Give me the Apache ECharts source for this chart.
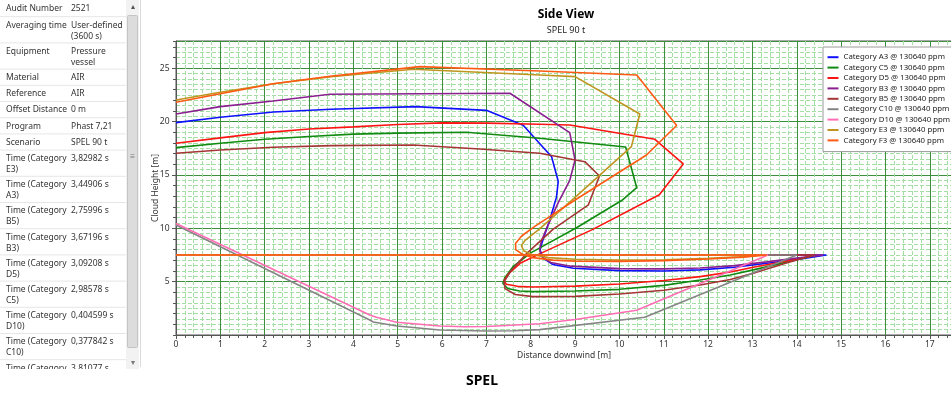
<!DOCTYPE html>
<html>
<head>
<meta charset="utf-8">
<script src="https://cdn.jsdelivr.net/npm/echarts@6/dist/echarts.min.js"></script>
<style>
  html, body { margin: 0; padding: 0; background: #fff; }
  #chart { width: 951px; height: 394px; }
</style>
</head>
<body>
<div id="chart"></div>
<script>
const FONT = '"Noto Sans", "Open Sans", sans-serif';

// Property panel (name / value pairs)
const propNames = [
  'Audit Number', 'Averaging time', 'Equipment', 'Material', 'Reference',
  'Offset Distance', 'Program', 'Scenario',
  'Time (Category\nE3)', 'Time (Category\nA3)', 'Time (Category\nB5)',
  'Time (Category\nB3)', 'Time (Category\nD5)', 'Time (Category\nC5)',
  'Time (Category\nD10)', 'Time (Category\nC10)', 'Time (Category\nF3)'
];
const propValues = [
  '2521', 'User-defined\n(3600 s)', 'Pressure\nvessel', 'AIR', 'AIR',
  '0 m', 'Phast 7,21', 'SPEL 90 t',
  '3,82982 s', '3,44906 s', '2,75996 s', '3,67196 s', '3,09208 s',
  '2,98578 s', '0,404599 s', '0,377842 s', '3,81077 s'
];

// Cloud outlines, side view: [distance downwind (m), cloud height (m)]
const seriesNames = [
  'Category A3 @ 130640 ppm', 'Category C5 @ 130640 ppm', 'Category D5 @ 130640 ppm',
  'Category B3 @ 130640 ppm', 'Category B5 @ 130640 ppm', 'Category C10 @ 130640 ppm',
  'Category D10 @ 130640 ppm', 'Category E3 @ 130640 ppm', 'Category F3 @ 130640 ppm'
];
const seriesColors = ['#1010ff', '#118a11', '#ff1414', '#8a1f8f', '#a53535', '#858585', '#ff6eb4', '#bf9520', '#ff5a14'];

const outlineA3 = [[0,19.9],[1,20.4],[2.2,20.9],[3.5,21.15],[5.4,21.4],[7.0,21.05],[7.83,19.65],[8.47,16.7],[8.62,14.4],[8.58,12.9],[8.43,10.8],[8.25,8.6],[8.21,7.95],[8.28,7.2],[8.5,6.6],[8.96,6.25],[10,6.03],[11,6.0],[11.82,6.1],[12.6,6.35],[13.32,6.72],[14.05,7.1],[14.67,7.5],[0,7.5]];
const outlineC5 = [[0,17.56],[1,17.97],[2,18.34],[3,18.6],[4,18.82],[5,18.92],[6.55,19.0],[8.2,18.43],[10.14,17.62],[10.39,13.8],[10.05,12.6],[9.05,10.1],[8.0,7.7],[7.6,6.4],[7.42,5.4],[7.37,4.85],[7.48,4.35],[7.75,4.12],[8.05,4.06],[9,4.12],[10,4.28],[11,4.65],[11.82,5.15],[12.5,5.62],[13.02,6.1],[13.8,6.85],[14.45,7.5],[0,7.5]];
const outlineD5 = [[0,17.97],[1,18.47],[2,18.96],[3,19.3],[4,19.5],[5,19.72],[6,19.88],[7,19.85],[8.2,19.75],[8.88,19.68],[10.8,18.34],[11.44,16.03],[10.9,13.15],[9.4,9.9],[8.2,7.6],[7.76,6.72],[7.5,5.75],[7.4,5.1],[7.45,4.75],[7.7,4.56],[8.05,4.5],[9,4.58],[10,4.78],[11,5.1],[11.82,5.47],[12.5,5.9],[13.02,6.35],[13.8,6.95],[14.45,7.5],[0,7.5]];
const outlineB3 = [[0,20.71],[1,21.4],[2.19,21.93],[3.47,22.56],[5.5,22.6],[7.53,22.65],[8.88,18.96],[9.0,16.4],[8.88,14.5],[8.62,12.4],[8.38,10.2],[8.24,8.8],[8.2,8.0],[8.26,7.3],[8.45,6.8],[8.9,6.45],[10,6.22],[11,6.2],[11.82,6.28],[12.6,6.5],[13.32,6.85],[14.0,7.2],[14.6,7.5],[0,7.5]];
const outlineB5 = [[0,17.03],[1,17.34],[2.19,17.6],[3.5,17.75],[5.35,17.81],[6.85,17.43],[8.2,17.03],[9.22,16.24],[9.55,14.9],[9.3,12.2],[8.5,9.9],[7.9,7.6],[7.55,6.0],[7.4,5.0],[7.42,4.35],[7.65,3.8],[8.05,3.6],[9,3.62],[10,3.84],[11,4.2],[11.82,4.69],[12.5,5.2],[13.02,5.78],[13.8,6.8],[14.4,7.5],[0,7.5]];
const outlineC10 = [[0,10.31],[4.37,1.41],[4.45,1.22],[4.98,0.84],[5.95,0.47],[7.0,0.37],[7.6,0.4],[8.2,0.5],[10.57,1.66],[14.0,7.5],[0,7.5]];
const outlineD10 = [[0,10.45],[4.37,1.87],[4.52,1.66],[4.98,1.19],[5.95,0.84],[6.5,0.78],[7.0,0.8],[8.2,1.05],[9.0,1.45],[10.39,2.32],[13.35,7.5],[0,7.5]];
const outlineE3 = [[0,22.02],[1,22.75],[2.2,23.55],[3.5,24.2],[5.35,24.9],[8.2,24.37],[9.0,24.21],[10.46,20.71],[10.27,17.65],[9.0,12.9],[8.2,9.95],[7.88,8.9],[7.79,8.4],[7.84,7.9],[8.02,7.55],[8.4,7.25],[9,7.1],[10,7.02],[11,7.05],[12,7.18],[12.7,7.33],[13.25,7.5],[0,7.5]];
const outlineF3 = [[0,21.81],[1,22.6],[2.19,23.55],[3.47,24.25],[5.5,25.15],[8.2,24.74],[10.39,24.37],[11.29,19.63],[10.61,16.87],[9.0,12.65],[8.1,10.2],[7.8,9.3],[7.66,8.6],[7.66,8.0],[7.8,7.6],[8.05,7.25],[8.5,7.02],[9,6.92],[10,6.9],[11,6.97],[12,7.12],[12.8,7.3],[13.32,7.5],[0,7.5]];

const outlines = [outlineA3, outlineC5, outlineD5, outlineB3, outlineB5, outlineC10, outlineD10, outlineE3, outlineF3];

// Axis ranges
const X_MIN = 0, X_MAX = 17.5;
const Y_MIN = 0, Y_MAX = 27.55;

// ---- property panel graphics ----
const ROW_SINGLE = 16.2, ROW_DOUBLE = 26.2;
const panel = [];
let rowTop = 0;
propNames.forEach((name, i) => {
  const lines = Math.max(name.split('\n').length, propValues[i].split('\n').length);
  const h = lines > 1 ? ROW_DOUBLE : ROW_SINGLE;
  if (i > 0) {
    panel.push({ type: 'line', shape: { x1: 0, y1: rowTop + 0.5, x2: 126, y2: rowTop + 0.5 },
      style: { stroke: '#e6e6e6', lineWidth: 1 }, silent: true });
  }
  panel.push({ type: 'text', x: 6, y: rowTop + 3.5,
    style: { text: name, fontSize: 8.5, fontFamily: FONT, fill: '#333', lineHeight: 11, verticalAlign: 'top' } });
  panel.push({ type: 'text', x: 71, y: rowTop + 3.5,
    style: { text: propValues[i], fontSize: 8.5, fontFamily: FONT, fill: '#333', lineHeight: 11, verticalAlign: 'top' } });
  rowTop += h;
});
// scrollbar
panel.push({ type: 'rect', shape: { x: 126, y: 0, width: 13, height: 369 }, style: { fill: '#f2f2f2' } });
panel.push({ type: 'rect', shape: { x: 127.5, y: 15.5, width: 10, height: 332, r: 1 }, style: { fill: '#dcdcdc', stroke: '#c4c4c4', lineWidth: 1 } });
panel.push({ type: 'text', x: 132.5, y: 7, style: { text: '\u25B4', fontSize: 8, fill: '#555', align: 'center', verticalAlign: 'middle', fontFamily: FONT } });
panel.push({ type: 'text', x: 132.5, y: 157, style: { text: '\u2261', fontSize: 8, fill: '#777', align: 'center', verticalAlign: 'middle', fontFamily: FONT } });
panel.push({ type: 'text', x: 132.5, y: 363, style: { text: '\u25BE', fontSize: 8, fill: '#777', align: 'center', verticalAlign: 'middle', fontFamily: FONT } });
// panel bottom edge
panel.push({ type: 'rect', shape: { x: 0, y: 369, width: 140, height: 25 }, style: { fill: '#fff' } });
panel.push({ type: 'line', shape: { x1: 140.5, y1: 0, x2: 140.5, y2: 367 }, style: { stroke: '#dadada', lineWidth: 1 } });

// titles
panel.push({ type: 'text', x: 566, y: 15, style: { text: 'Side View', fontSize: 12, fontWeight: 'bold', fontFamily: FONT, fill: '#000', align: 'center', verticalAlign: 'middle' } });
panel.push({ type: 'text', x: 566, y: 30, style: { text: 'SPEL 90 t', fontSize: 9, fontFamily: FONT, fill: '#222', align: 'center', verticalAlign: 'middle' } });
panel.push({ type: 'text', x: 482, y: 381, style: { text: 'SPEL', fontSize: 14, fontWeight: 'bold', fontFamily: FONT, fill: '#000', align: 'center', verticalAlign: 'middle' } });

const chart = echarts.init(document.getElementById('chart'), null, { renderer: 'canvas' });

const GRID_MINOR = '#a3dfa3';
const GRID_MAJOR = '#3d8f3d';
const AXIS_DARK = '#555';

chart.setOption({
  animation: false,
  backgroundColor: '#fff',
  textStyle: { fontFamily: FONT },
  grid: {
    left: 176, top: 41, width: 776, height: 294,
    show: true, borderColor: AXIS_DARK, borderWidth: 1, backgroundColor: 'transparent',
    containLabel: false, outerBoundsMode: 'none'
  },
  xAxis: [
    {
      type: 'value', position: 'bottom', min: X_MIN, max: X_MAX, interval: 0.2,
      axisLine: { show: false }, axisLabel: { show: false },
      axisTick: { show: true, length: 3, lineStyle: { color: AXIS_DARK } },
      splitLine: { show: true, lineStyle: { color: GRID_MINOR, type: [4, 2], width: 1 } }
    },
    {
      type: 'value', position: 'bottom', min: X_MIN, max: X_MAX, interval: 1,
      name: 'Distance downwind [m]', nameLocation: 'middle', nameGap: 16, nameMoveOverlap: false,
      nameTextStyle: { fontSize: 8.5, color: '#333', fontFamily: FONT },
      axisLine: { show: true, onZero: false, lineStyle: { color: AXIS_DARK } },
      axisTick: { show: true, length: 4, lineStyle: { color: AXIS_DARK } },
      axisLabel: { fontSize: 8.5, color: '#333', margin: 5, showMaxLabel: false, fontFamily: FONT },
      splitLine: { show: true, lineStyle: { color: GRID_MAJOR, width: 1 } }
    }
  ],
  yAxis: [
    {
      type: 'value', position: 'left', min: Y_MIN, max: Y_MAX, interval: 0.5,
      axisLine: { show: false }, axisLabel: { show: false }, axisTick: { show: false },
      splitLine: { show: true, lineStyle: { color: GRID_MINOR, type: [4, 2], width: 1 } }
    },
    {
      type: 'value', position: 'left', min: Y_MIN, max: Y_MAX, interval: 1,
      axisLine: { show: false }, axisLabel: { show: false },
      axisTick: { show: true, length: 3, lineStyle: { color: AXIS_DARK } },
      splitLine: { show: false }
    },
    {
      type: 'value', position: 'left', min: Y_MIN, max: Y_MAX, interval: 5,
      name: 'Cloud Height [m]', nameLocation: 'middle', nameGap: 16, nameMoveOverlap: false,
      nameTextStyle: { fontSize: 8.5, color: '#333', fontFamily: FONT },
      axisLine: { show: true, onZero: false, lineStyle: { color: AXIS_DARK } },
      axisTick: { show: true, length: 4, lineStyle: { color: AXIS_DARK } },
      axisLabel: { fontSize: 8.5, color: '#333', margin: 6.5, showMinLabel: false, showMaxLabel: false, fontFamily: FONT },
      splitLine: { show: true, lineStyle: { color: GRID_MAJOR, width: 1 } }
    }
  ],
  legend: {
    orient: 'vertical', left: 823, top: 47,
    itemGap: 0, itemWidth: 11, itemHeight: 2, icon: 'rect',
    padding: [5, 30, 6, 4.5],
    backgroundColor: '#fff', borderColor: '#999', borderWidth: 1,
    textStyle: { fontSize: 7.8, lineHeight: 10.4, color: '#222', fontFamily: FONT },
    selectedMode: false,
    data: seriesNames
  },
  graphic: panel,
  series: outlines.map((pts, i) => ({
    name: seriesNames[i],
    type: 'line',
    xAxisIndex: 1, yAxisIndex: 2,
    data: pts,
    showSymbol: false, symbol: 'none',
    smooth: false,
    color: seriesColors[i],
    lineStyle: { width: 1.6, color: seriesColors[i] },
    emphasis: { disabled: true }
  }))
});
</script>
</body>
</html>
